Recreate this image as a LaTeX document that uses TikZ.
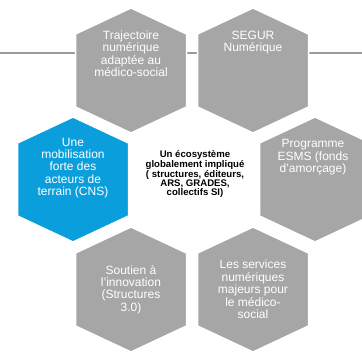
\documentclass[tikz,border=0pt]{standalone}
\usepackage{fontspec}
\setmainfont{Liberation Sans}
\definecolor{hexg}{HTML}{A6A6A6}
\definecolor{hexb}{HTML}{0A9FDC}
\definecolor{linec}{HTML}{9A9A9A}
\newcommand\hexshape[2]{\path[#2] ([shift={(0,-62.5)}]#1) -- ([shift={(55.5,-36.5)}]#1) -- ([shift={(55.5,36.5)}]#1) -- ([shift={(0,62.5)}]#1) -- ([shift={(-55.5,36.5)}]#1) -- ([shift={(-55.5,-36.5)}]#1) -- cycle;}
\begin{document}
\begin{tikzpicture}[x=1pt,y=-1pt,
  grayhex/.style={fill=hexg, draw=white, line width=1.5pt},
  bluehex/.style={fill=hexb, draw=white, line width=1.5pt},
  hextext/.style={text=white, align=center, inner sep=0pt, font=\fontsize{12}{12.4}\selectfont},
  centertext/.style={text=black, align=center, inner sep=0pt, font=\fontsize{9.6}{8.9}\selectfont\bfseries},
  hline/.style={draw=linec, line width=1.3pt}]
\useasboundingbox (0,0) rectangle (362,352);
\clip (0,0) rectangle (362,352);
\fill[white] (0,0) rectangle (362,352);
\coordinate (tl) at (131,70.5);
\coordinate (tr) at (253,70.5);
\coordinate (ml) at (73,179.5);
\coordinate (mc) at (194,179.5);
\coordinate (mr) at (315,179.5);
\coordinate (bl) at (131,289.5);
\coordinate (br) at (253,289.5);
\coordinate (lineL) at (0,53);
\coordinate (lineR) at (362,53);
\draw[hline] (lineL) -- (lineR);
\hexshape{tl}{grayhex}
\hexshape{tr}{grayhex}
\hexshape{ml}{bluehex}
\hexshape{mr}{grayhex}
\hexshape{bl}{grayhex}
\hexshape{br}{grayhex}
\node[hextext, anchor=north] (t1) at (131,30.7) {Trajectoire\\numérique\\adaptée au\\médico-social};
\node[hextext, anchor=north] (t2) at (253,31) {SEGUR\\Numérique};
\node[hextext, anchor=north] (t3) at (73,137.7) {Une\\mobilisation\\forte des\\acteurs de\\terrain (CNS)};
\node[hextext, anchor=north] (t4) at (313,139.5) {Programme\\ESMS (fonds\\d’amorçage)};
\node[hextext, anchor=center] (t5) at (131,289.5) {Soutien à\\l’innovation\\(Structures\\3.0)};
\node[hextext, anchor=center] (t6) at (253,289.5) {Les services\\numériques\\majeurs pour\\le médico-\\social};
\node[centertext, anchor=center] (c) at (195,174) {Un écosystème\\globalement impliqué\\( structures, éditeurs,\\ARS, GRADES,\\collectifs SI)};
\end{tikzpicture}
\end{document}
